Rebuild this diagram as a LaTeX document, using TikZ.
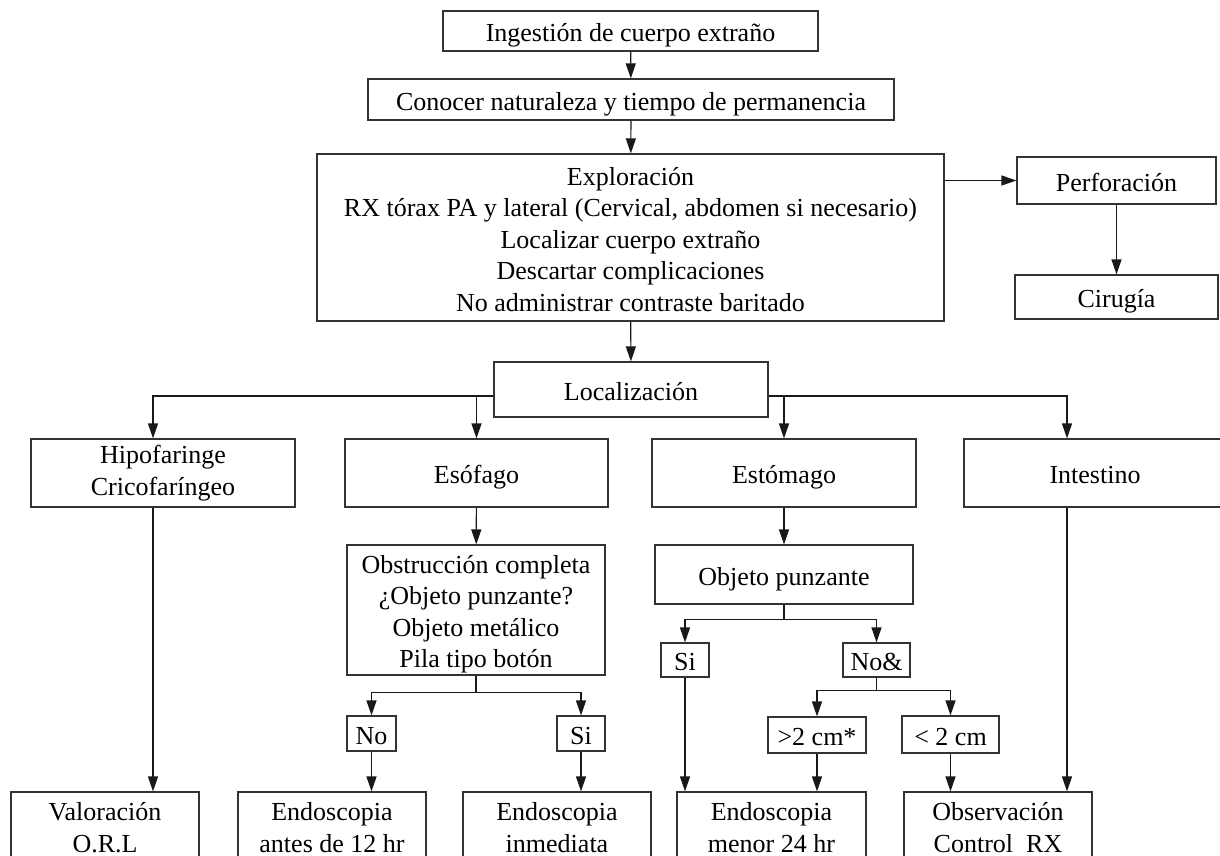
\documentclass[tikz,border=0pt]{standalone}
\usepackage{fontspec}
\setmainfont{Liberation Serif}
\usetikzlibrary{arrows.meta}
\newcommand\mlines[1]{\begin{tabular}[t]{@{}c@{}}#1\end{tabular}}
\tikzset{
  box/.style={draw=black!80, line width=1.2pt, inner sep=0pt,
    font=\fontsize{26}{31.5}\selectfont, text=black,
    text height=24pt, text depth=2.8pt},
  two/.style={text depth=34.3pt},
  twoup/.style={text height=20pt, text depth=38.3pt},
  four/.style={text depth=97.3pt},
  five/.style={text depth=128.8pt},
  conn/.style={draw=black!90, line width=1.2pt},
  arr/.style={conn, -{Triangle[length=15pt,width=10pt]}}
}
\begin{document}
\begin{tikzpicture}[x=1pt,y=-1pt]
\useasboundingbox (0,0) rectangle (1220,856);
% top chain
\node[box, minimum width=375pt, minimum height=40pt] (ing) at (630.5,31) {Ingestión de cuerpo extraño};
\node[box, minimum width=526pt, minimum height=41pt] (con) at (631,99.5) {Conocer naturaleza y tiempo de permanencia};
\node[box, five, minimum width=627pt, minimum height=167pt] (exp) at (630.5,237.5) {\mlines{Exploración\\RX tórax PA y lateral (Cervical, abdomen si necesario)\\Localizar cuerpo extraño\\Descartar complicaciones\\No administrar contraste baritado}};
\node[box, minimum width=199pt, minimum height=47pt] (perf) at (1116.5,180.5) {Perforación};
\node[box, minimum width=203pt, minimum height=44pt] (cir) at (1116.5,297) {Cirugía};
\node[box, minimum width=274pt, minimum height=55pt] (loc) at (631,389.5) {Localización};
% level 2
\node[box, twoup, minimum width=264pt, minimum height=68pt] (hip) at (163,473) {\mlines{Hipofaringe\\Cricofaríngeo}};
\node[box, minimum width=263pt, minimum height=68pt] (eso) at (476.5,473) {Esófago};
\node[box, minimum width=264pt, minimum height=68pt] (est) at (784,473) {Estómago};
\node[box, minimum width=262pt, minimum height=68pt] (int) at (1095,473) {Intestino};
% level 3
\node[box, four, minimum width=258pt, minimum height=130pt] (obs) at (476,610) {\mlines{Obstrucción completa\\¿Objeto punzante?\\Objeto metálico\\Pila tipo botón}};
\node[box, minimum width=258pt, minimum height=59pt] (obj) at (784,574.5) {Objeto punzante};
% small decision boxes
\node[box, minimum width=49pt, minimum height=35pt] (no1) at (371.5,733.5) {No};
\node[box, minimum width=48pt, minimum height=35pt] (si1) at (581,733.5) {Si};
\node[box, minimum width=48pt, minimum height=34pt] (si2) at (685,660) {Si};
\node[box, minimum width=67pt, minimum height=34pt] (no2) at (876.5,660) {No\&};
\node[box, minimum width=98pt, minimum height=36pt] (gt) at (817,735) {>2 cm*};
\node[box, minimum width=97pt, minimum height=37pt] (lt) at (950.5,734.5) {< 2 cm};
% bottom row
\node[box, two, minimum width=188pt, minimum height=68pt] (val) at (105,826) {\mlines{Valoración\\O.R.L}};
\node[box, two, minimum width=188pt, minimum height=68pt] (ea) at (332,826) {\mlines{Endoscopia\\antes de 12 hr}};
\node[box, two, minimum width=188pt, minimum height=68pt] (ei) at (557,826) {\mlines{Endoscopia\\inmediata}};
\node[box, two, minimum width=189pt, minimum height=68pt] (em) at (771.5,826) {\mlines{Endoscopia\\menor 24 hr}};
\node[box, two, minimum width=188pt, minimum height=68pt] (ob) at (998,826) {\mlines{Observación\\Control~~RX}};
% connectors: top chain
\draw[arr] (ing) -- (con);
\draw[arr] (con) -- (exp);
\draw[arr] (exp) -- (loc);
\draw[arr] (perf.west -| exp.east) -- (perf.west);
\draw[arr] (perf) -- (cir);
% Localizacion branches
\coordinate (bl) at ([yshift=-6.5pt]loc.west);
\coordinate (br) at ([yshift=-6.5pt]loc.east);
\draw[arr] (bl) -| ([xshift=-10pt]hip.north);
\draw[arr] (eso.north |- bl) -- (eso.north);
\draw[arr] (br) -| (est.north);
\draw[arr] (br) -| ([xshift=-28pt]int.north);
% Hipofaringe
\draw[arr] ([xshift=-10pt]hip.south) -- ([xshift=-10pt]hip.south |- val.north);
% Esofago
\draw[arr] (eso) -- (obs);
\coordinate (ob1) at ([yshift=-17pt]obs.south);
\draw[conn] (obs.south) -- (ob1);
\draw[arr] (ob1) -| (no1.north);
\draw[arr] (ob1) -| (si1.north);
\draw[arr] (no1.south) -- (no1.south |- ea.north);
\draw[arr] (si1.south) -- (si1.south |- ei.north);
% Estomago
\draw[arr] (est) -- (obj);
\coordinate (oj1) at ([yshift=-15pt]obj.south);
\draw[conn] (obj.south) -- (oj1);
\draw[arr] (oj1) -| (si2.north);
\draw[arr] (oj1) -| (no2.north);
\draw[arr] (si2.south) -- (si2.south |- em.north);
\coordinate (nn1) at ([yshift=-13pt]no2.south);
\draw[conn] (no2.south) -- (nn1);
\draw[arr] (nn1) -| (gt.north);
\draw[arr] (nn1) -| (lt.north);
\draw[arr] (gt.south) -- (gt.south |- em.north);
\draw[arr] (lt.south) -- (lt.south |- ob.north);
% Intestino
\draw[arr] ([xshift=-28pt]int.south) -- ([xshift=-28pt]int.south |- ob.north);
\end{tikzpicture}
\end{document}
